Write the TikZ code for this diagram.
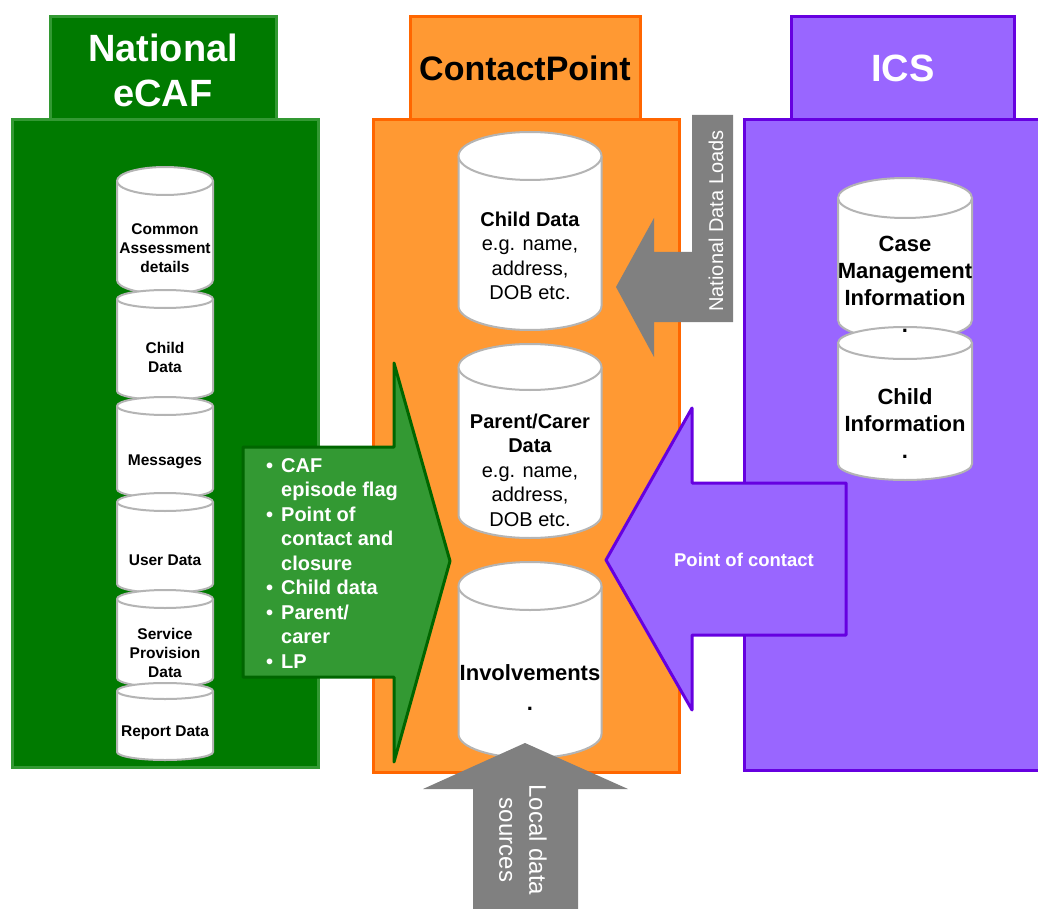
\documentclass[tikz,border=0pt]{standalone}
\usepackage{fontspec}
\setmainfont{Liberation Sans}
\usepackage{array}

\definecolor{ecafgreen}{HTML}{007A00}
\definecolor{ecafedge}{HTML}{339933}
\definecolor{flowgreen}{HTML}{339933}
\definecolor{flowedge}{HTML}{006600}
\definecolor{cporange}{HTML}{FF9933}
\definecolor{cpedge}{HTML}{FF6600}
\definecolor{icspurple}{HTML}{9966FF}
\definecolor{icsedge}{HTML}{6600E0}
\definecolor{loadgray}{HTML}{808080}
\definecolor{cylgray}{HTML}{B4B4B4}

% database cylinder: centre x, top y, bottom y, x radius, y radius
\newcommand{\cylbody}[5]{%
  \filldraw[cyl] ({#1-#4},{#2+#5})
    arc[start angle=180,end angle=360,x radius=#4,y radius=#5]
    -- ({#1+#4},{#3-#5})
    arc[start angle=0,end angle=180,x radius=#4,y radius=#5] -- cycle;
  \draw[cyl] ({#1+#4},{#2+#5})
    arc[start angle=0,end angle=180,x radius=#4,y radius=#5];}

\tikzset{
  cyl/.style={fill=white,draw=cylgray,line width=2pt},
  greenbox/.style={fill=ecafgreen,draw=ecafedge,line width=3pt},
  orangebox/.style={fill=cporange,draw=cpedge,line width=3pt},
  purplebox/.style={fill=icspurple,draw=icsedge,line width=3pt},
  headtext/.style={text=white,font=\fontsize{38}{45}\selectfont\bfseries,align=center},
  smallcyl/.style={font=\fontsize{15.5}{19}\selectfont\bfseries,align=center,inner sep=0pt},
  midcyl/.style={font=\fontsize{20}{24.5}\selectfont,align=center,inner sep=0pt},
  icscyl/.style={font=\fontsize{22}{27}\selectfont\bfseries,align=center,inner sep=0pt},
}

\begin{document}
\begin{tikzpicture}[x=1pt,y=-1pt]
\useasboundingbox (0,0) rectangle (1038,909);

% column headers
\draw[greenbox] (50,17) rectangle (276,120);
\draw[orangebox] (410,17) rectangle (640,120);
\draw[purplebox] (791,17) rectangle (1014,120);

% column bodies
\draw[greenbox] (12,120) rectangle (318,767);
\draw[orangebox] (373,120) rectangle (679,772);
\draw[purplebox] (744,120) rectangle (1042,770);

\node[headtext] (ecafhead) at (163,70) {National\\eCAF};
\node[headtext,text=black,font=\fontsize{34}{40}\selectfont\bfseries] (cphead) at (525,68) {ContactPoint};
\node[headtext] (icshead) at (903,68) {ICS};

% eCAF data stores
\cylbody{165}{167}{294}{48}{14}
\node[smallcyl] (ecaf1) at (165,248) {Common\\Assessment\\details};
\cylbody{165}{290}{400}{48}{9}
\node[smallcyl] (ecaf2) at (165,357) {Child\\Data};
\cylbody{165}{397}{498}{48}{9}
\node[smallcyl] (ecaf3) at (165,462) {Messages};
\cylbody{165}{493}{593}{48}{9}
\node[smallcyl] (ecaf4) at (165,560) {User Data};
\cylbody{165}{590}{687}{48}{9}
\node[smallcyl] (ecaf5) at (165,653) {Service\\Provision\\Data};
\cylbody{165}{683}{760}{48}{8}
\node[smallcyl] (ecaf6) at (165,733) {Report Data};

% ContactPoint data stores
\cylbody{530}{132}{330}{71.5}{24}
\node[midcyl] (cp1) at (530,256) {\textbf{Child Data}\\e.g. name,\\address,\\DOB etc.};
\cylbody{530}{344}{538}{71.5}{23}
\node[midcyl] (cp2) at (530,470) {\textbf{Parent/Carer}\\\textbf{Data}\\e.g. name,\\address,\\DOB etc.};
\cylbody{530}{562}{758}{71.5}{24}
\node[midcyl,font=\fontsize{22}{30}\selectfont\bfseries] (cp3) at (530,688) {Involvements\\.};

% ICS data stores (labels set after both bodies)
\cylbody{905}{178}{340}{67}{20}
\cylbody{905}{327}{480}{67}{16}
\node[icscyl] (ics1) at (905,284) {Case\\Management\\Information\\.};
\node[icscyl] (ics2) at (905,424) {Child\\Information\\.};

% eCAF -> ContactPoint flow
\filldraw[fill=flowgreen,draw=flowedge,line width=3pt,line join=round]
  (243,447) -- (394,447) -- (394,363) -- (450,561) -- (394,762) -- (394,677) -- (243,677) -- cycle;
\node[anchor=base west,text=white,inner sep=0pt,
      font=\fontsize{20}{24.5}\selectfont\bfseries] (cafflow) at (266,472)
  {\begin{tabular}[t]{@{}p{15pt}@{}l@{}}
   • & CAF\\
     & episode flag\\
   • & Point of\\
     & contact and\\
     & closure\\
   • & Child data\\
   • & Parent/\\
     & carer\\
   • & LP
   \end{tabular}};

% ICS -> ContactPoint flow
\filldraw[fill=icspurple,draw=icsedge,line width=3pt,line join=round]
  (846,483) -- (692,483) -- (692,408) -- (606,560) -- (692,710) -- (692,635) -- (846,635) -- cycle;
\node[text=white,font=\fontsize{18.5}{22}\selectfont\bfseries] (icsflow) at (744,560) {Point of contact};

% national data loads
\fill[loadgray] (733,115) -- (692,115) -- (692,252) -- (654,252) -- (654,218) -- (616,287)
  -- (654,357) -- (654,322) -- (733,322) -- cycle;
\node[rotate=90,text=white,font=\fontsize{20}{24}\selectfont] (natload) at (716,221) {National Data Loads};

% local data sources
\fill[loadgray] (473,912) -- (473,789) -- (423,789) -- (525,743) -- (628,789) -- (578,789) -- (578,912) -- cycle;
\node[rotate=-90,text=white,align=center,font=\fontsize{24}{30}\selectfont] (localsrc) at (523,840) {Local data\\sources};
\end{tikzpicture}
\end{document}
